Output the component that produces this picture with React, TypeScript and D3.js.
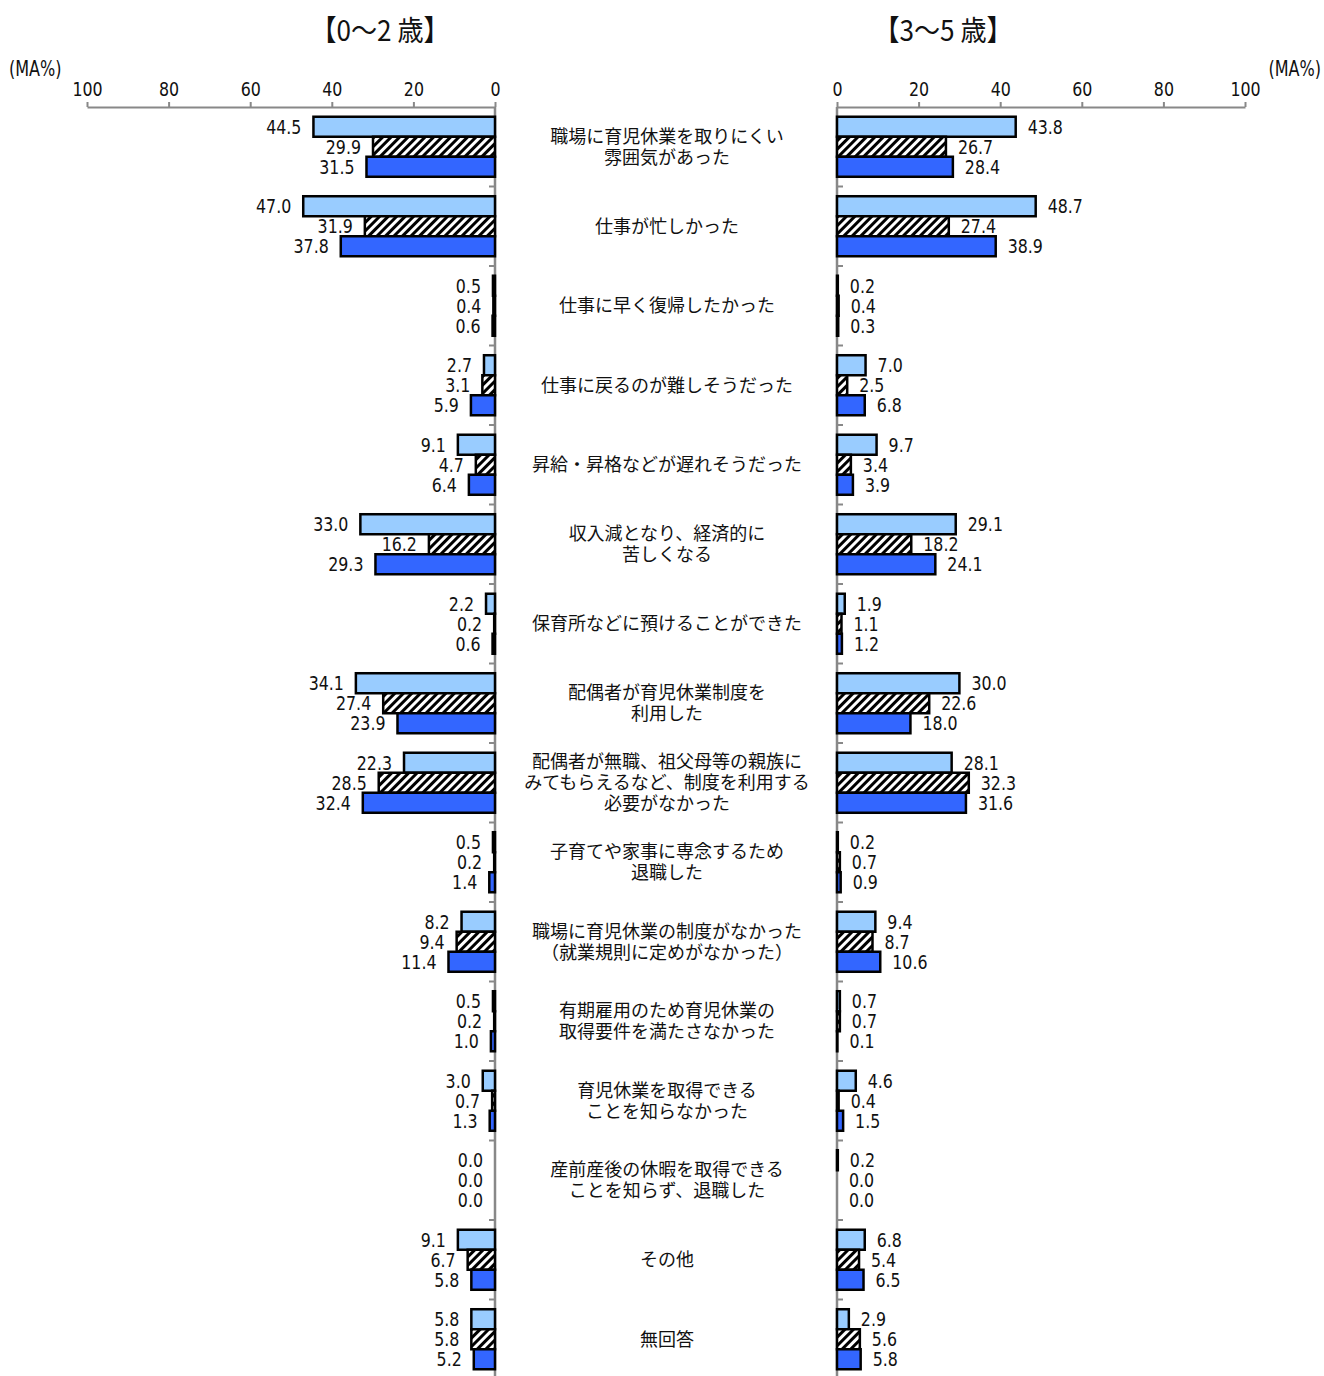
import React, { useEffect, useRef } from 'react';
import * as d3 from 'd3';

// categories (line breaks as in the original)
const categories = [
  ['職場に育児休業を取りにくい', '雰囲気があった'],
  ['仕事が忙しかった'],
  ['仕事に早く復帰したかった'],
  ['仕事に戻るのが難しそうだった'],
  ['昇給・昇格などが遅れそうだった'],
  ['収入減となり、経済的に', '苦しくなる'],
  ['保育所などに預けることができた'],
  ['配偶者が育児休業制度を', '利用した'],
  ['配偶者が無職、祖父母等の親族に', 'みてもらえるなど、制度を利用する', '必要がなかった'],
  ['子育てや家事に専念するため', '退職した'],
  ['職場に育児休業の制度がなかった', '（就業規則に定めがなかった）'],
  ['有期雇用のため育児休業の', '取得要件を満たさなかった'],
  ['育児休業を取得できる', 'ことを知らなかった'],
  ['産前産後の休暇を取得できる', 'ことを知らず、退職した'],
  ['その他'],
  ['無回答'],
];

// 0~2 years
const left1 = [44.5, 47.0, 0.5, 2.7, 9.1, 33.0, 2.2, 34.1, 22.3, 0.5, 8.2, 0.5, 3.0, 0.0, 9.1, 5.8];
const left2 = [29.9, 31.9, 0.4, 3.1, 4.7, 16.2, 0.2, 27.4, 28.5, 0.2, 9.4, 0.2, 0.7, 0.0, 6.7, 5.8];
const left3 = [31.5, 37.8, 0.6, 5.9, 6.4, 29.3, 0.6, 23.9, 32.4, 1.4, 11.4, 1.0, 1.3, 0.0, 5.8, 5.2];

// 3~5 years
const right1 = [43.8, 48.7, 0.2, 7.0, 9.7, 29.1, 1.9, 30.0, 28.1, 0.2, 9.4, 0.7, 4.6, 0.2, 6.8, 2.9];
const right2 = [26.7, 27.4, 0.4, 2.5, 3.4, 18.2, 1.1, 22.6, 32.3, 0.7, 8.7, 0.7, 0.4, 0.0, 5.4, 5.6];
const right3 = [28.4, 38.9, 0.3, 6.8, 3.9, 24.1, 1.2, 18.0, 31.6, 0.9, 10.6, 0.1, 1.5, 0.0, 6.5, 5.8];

const ticks = [0, 20, 40, 60, 80, 100];
const fills = ['#99ccff', 'url(#hatch)', '#3366ff'];

const numFont = '"DejaVu Sans Condensed", "Liberation Sans Narrow", sans-serif';
const jpFont = '"Noto Sans CJK JP", sans-serif';
const sx = 0.88; // narrow the digits like the original

export default function App() {
  const ref = useRef<SVGSVGElement>(null);

  useEffect(() => {
    document.body.style.margin = '0';
    const svg = d3.select(ref.current);
    svg.selectAll('*').remove();

    const top = 107, bottom = 1379;
    const defs = svg.append('defs');
    const pat = defs.append('pattern')
      .attr('id', 'hatch')
      .attr('patternUnits', 'userSpaceOnUse')
      .attr('width', 6).attr('height', 6)
      .attr('patternTransform', 'rotate(45)');
    pat.append('rect').attr('width', 6).attr('height', 6).attr('fill', '#fff');
    pat.append('rect').attr('width', 3).attr('height', 6).attr('fill', '#000');

    const y = d3.scaleBand<number>()
      .domain(d3.range(categories.length))
      .range([top, bottom])
      .paddingInner(0.245).paddingOuter(0.1225);
    const step = y.step();
    const sub = d3.scaleBand<number>().domain([0, 1, 2]).range([0, y.bandwidth()]);

    const panels = [
      { x: d3.scaleLinear().domain([0, 100]).range([495, 87]), data: [left1, left2, left3], dir: -1, title: '【0〜2 歳】', tx: 380, ma: [9, 'start'] },
      { x: d3.scaleLinear().domain([0, 100]).range([837, 1245]), data: [right1, right2, right3], dir: 1, title: '【3〜5 歳】', tx: 943, ma: [1321, 'end'] },
    ];

    const num = (sel: any, x: number, yy: number, anchor: string, txt: string, k = sx) =>
      sel.append('text')
        .attr('transform', `translate(${x},${yy}) scale(${k},1)`)
        .attr('dy', '0.36em')
        .attr('text-anchor', anchor)
        .attr('font-family', numFont).attr('font-size', 20).attr('fill', '#111')
        .text(txt);

    panels.forEach(p => {
      const g = svg.append('g');
      // title
      g.append('text').attr('transform', `translate(${p.tx},41) scale(0.9,1)`).attr('text-anchor', 'middle')
        .attr('font-family', jpFont).attr('font-size', 29).attr('fill', '#111').text(p.title);
      num(g, p.ma[0] as number, 68, p.ma[1] as string, '(MA%)', 0.85).attr('font-size', 21);

      // top axis
      const axis = g.append('g').attr('transform', `translate(0,${top})`)
        .call(d3.axisTop(p.x).tickValues(ticks).tickSize(5).tickPadding(6).tickSizeOuter(0));
      axis.select('.domain').attr('stroke', '#888').attr('stroke-width', 2);
      axis.selectAll('.tick line').attr('stroke', '#888').attr('stroke-width', 2);
      axis.selectAll('.tick text').attr('font-family', numFont).attr('font-size', 20).attr('fill', '#111')
        .attr('transform', `scale(${sx},1)`);

      // vertical axis with band boundary ticks
      const x0 = p.x(0);
      g.append('line').attr('x1', x0).attr('x2', x0).attr('y1', top).attr('y2', 1376)
        .attr('stroke', '#888').attr('stroke-width', 2.5);
      g.selectAll('.btick').data(d3.range(1, categories.length)).join('line')
        .attr('x1', x0).attr('x2', x0 + p.dir * 6)
        .attr('y1', i => top + i * step).attr('y2', i => top + i * step)
        .attr('stroke', '#888').attr('stroke-width', 2);

      // bars
      p.data.forEach((series, s) => {
        const bars = series.map((v, i) => ({ v, i }));
        g.selectAll(`.bar${s}`).data(bars.filter(d => d.v > 0)).join('rect')
          .attr('x', d => Math.min(p.x(0), p.x(d.v)))
          .attr('width', d => Math.abs(p.x(d.v) - p.x(0)))
          .attr('y', d => (y(d.i) as number) + (sub(s) as number))
          .attr('height', sub.bandwidth())
          .attr('fill', fills[s])
          .attr('stroke', '#000').attr('stroke-width', 2.5);
        bars.forEach(d => {
          num(g, p.x(d.v) + p.dir * 12,
            (y(d.i) as number) + (sub(s) as number) + sub.bandwidth() / 2,
            p.dir < 0 ? 'end' : 'start', d.v.toFixed(1));
        });
      });
    });

    // category labels
    const lh = 21;
    const cat = svg.append('g');
    categories.forEach((lines, i) => {
      const cy = (y(i) as number) + y.bandwidth() / 2;
      lines.forEach((ln, k) => {
        cat.append('text').attr('text-anchor', 'middle')
          .attr('font-family', jpFont).attr('font-size', 18).attr('fill', '#111')
          .attr('x', 667)
          .attr('y', cy + (k - (lines.length - 1) / 2) * lh)
          .attr('dy', '0.36em').text(ln);
      });
    });
  }, []);

  return <svg ref={ref} width={1324} height={1376} style={{ display: 'block', background: '#fff' }} />;
}
